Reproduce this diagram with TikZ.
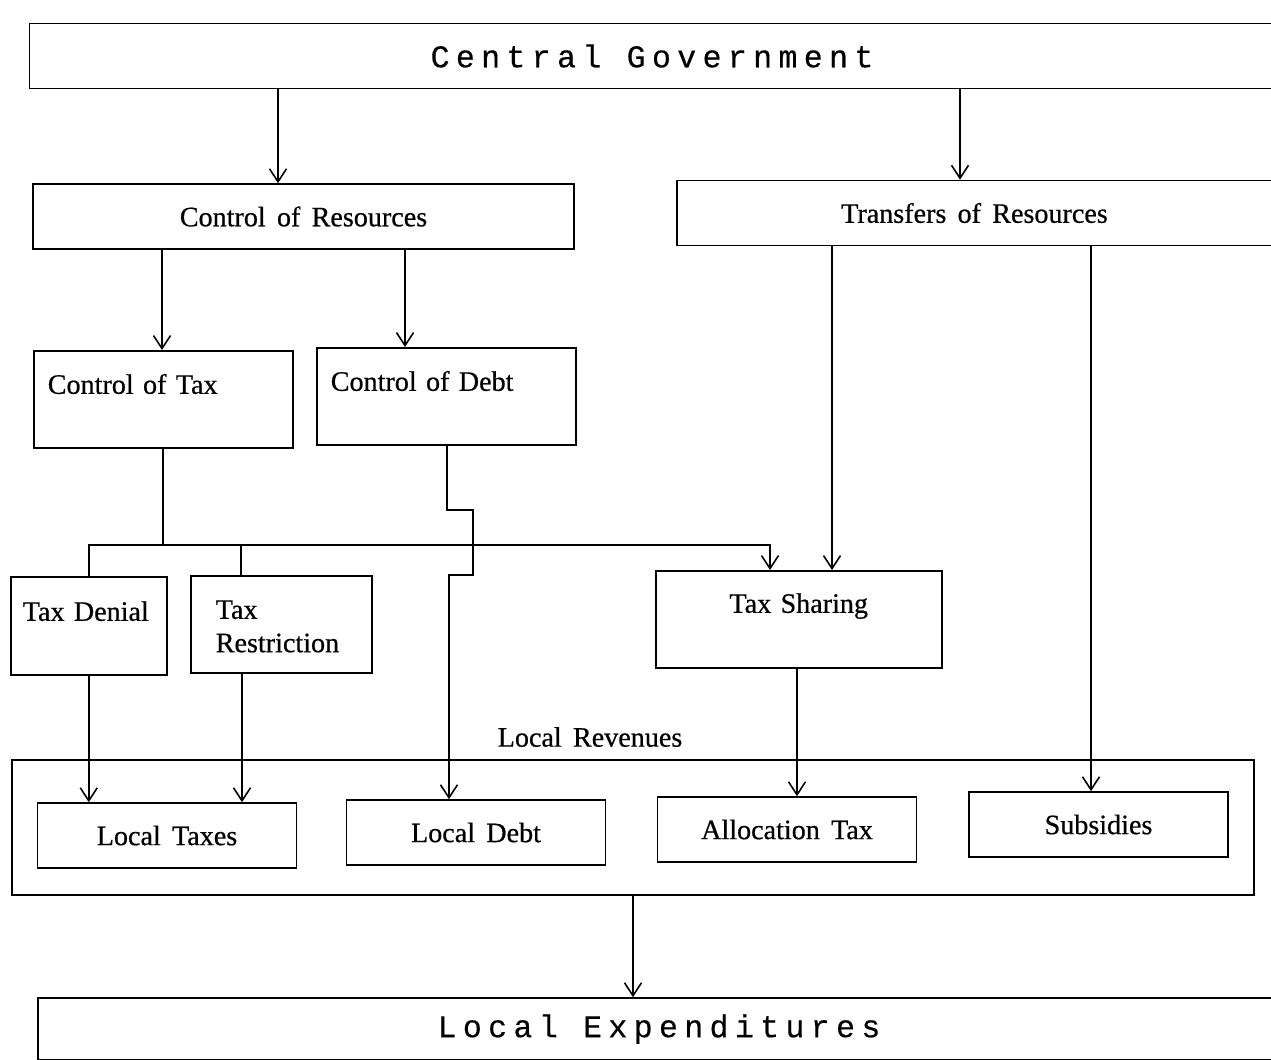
\documentclass[tikz,border=0pt]{standalone}
\usepackage{fontspec}
\setmainfont[FakeBold=0.6, WordSpace=1.6]{Liberation Serif}
\newfontfamily\spacedfont[LetterSpace=20, FakeBold=0.4]{Liberation Mono}
\usepackage{tikz}
\usetikzlibrary{positioning}
\usetikzlibrary{arrows.meta}

\tikzset{
  box/.style={draw, line width=0.9pt, inner sep=0pt, font=\fontsize{16}{19}\selectfont},
  topbox/.style={box, anchor=north west, inner xsep=0.28cm, text height=0.86cm, text depth=1.08cm, align=left},
  lowbox/.style={box, minimum width=5.18cm, minimum height=1.3cm},
  widebox/.style={box, font=\fontsize{18}{21}\spacedfont},
  arr/.style={line width=0.9pt, -{Straight Barb[length=0.26cm,width=0.34cm]}},
  link/.style={line width=0.9pt}
}

\begin{document}
\begin{tikzpicture}[x=0.02cm, y=-0.02cm]
  \useasboundingbox (0,0) rectangle (1271,1059);
  \clip (0,0) rectangle (1271,1059);

  % Top level
  \node[widebox, minimum width=24.9cm, minimum height=1.3cm] (cg) at (652,56) {Central Government};

  % Control and transfers
  \node[box, minimum width=10.82cm, minimum height=1.3cm] (cres) at (303.5,216.5) {Control of Resources};
  \node[box, minimum width=11.9cm, minimum height=1.3cm] (trans) at (974.5,213) {Transfers of Resources};

  \node[topbox, text width=4.62cm] (ctax) at (33,350) {Control of Tax};
  \node[topbox, text width=4.62cm] (cdebt) at (316,347) {Control of Debt};

  % Tax measures
  \node[topbox, inner xsep=0.24cm, text width=2.64cm, text height=0.88cm] (tden) at (10,576) {Tax Denial};
  \node[topbox, inner xsep=0.5cm, text width=2.62cm] (tres) at (190,575) {Tax\\Restriction};
  \node[topbox, text width=5.16cm, align=center, text height=0.84cm, text depth=1.1cm] (tshare) at (655,570) {Tax Sharing};

  % Local revenues
  \node[box, minimum width=24.84cm, minimum height=2.7cm] (rev) at (633,827.5) {};
  \node[font=\fontsize{16}{19}\selectfont] (revlabel) at (590,737) {Local Revenues};
  \node[lowbox] (ltax) at (167,835.5) {Local Taxes};
  \node[lowbox] (ldebt) at (476,832.5) {Local Debt};
  \node[lowbox] (alloc) at (787,829.5) {Allocation Tax};
  \node[lowbox] (subs) at (1098.5,824.5) {Subsidies};

  % Bottom
  \node[widebox, minimum width=24.84cm, minimum height=1.24cm] (lexp) at (659,1029) {Local Expenditures};

  \coordinate (bus) at (0,545);

  % Connectors
  \draw[arr] (cg.south -| 278,0) -- (cres.north -| 278,0);
  \draw[arr] (cg.south -| 960,0) -- (trans.north -| 960,0);
  \draw[arr] (cres.south -| 162,0) -- (ctax.north -| 162,0);
  \draw[arr] (cres.south -| 405,0) -- (cdebt.north -| 405,0);

  % tax branch
  \draw[link] (ctax.south) -- (ctax.south |- bus);
  \draw[arr] (tden.north) |- (bus -| 770,0) -- (tshare.north -| 770,0);
  \draw[link] (tres.north -| 241,0) -- (bus -| 241,0);

  % debt branch
  \draw[arr] (cdebt.south -| 447,0) |- (473,510) |- (449,575) -- (ldebt.north -| 449,0);

  % transfers
  \draw[arr] (trans.south -| 832,0) -- (tshare.north -| 832,0);
  \draw[arr] (trans.south -| 1091,0) -- (subs.north -| 1091,0);

  % into local revenues
  \draw[arr] (tden.south) -- (ltax.north -| tden.south);
  \draw[arr] (tres.south -| 242,0) -- (ltax.north -| 242,0);
  \draw[arr] (tshare.south -| 797,0) -- (alloc.north -| 797,0);
  \draw[arr] (rev.south) -- (lexp.north -| rev.south);
\end{tikzpicture}
\end{document}
